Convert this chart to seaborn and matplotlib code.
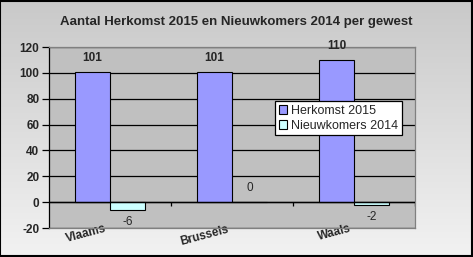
import numpy as np
import pandas as pd
import matplotlib
matplotlib.use("Agg")
import matplotlib.pyplot as plt
import matplotlib.transforms as mtransforms
from matplotlib.colors import LinearSegmentedColormap
import seaborn as sns

regions = ["Vlaams", "Brussels", "Waals"]
herkomst_2015 = [101, 101, 110]
nieuwkomers_2014 = [-6, 0, -2]
series_names = ["Herkomst 2015", "Nieuwkomers 2014"]
y_ticks = [-20, 0, 20, 40, 60, 80, 100, 120]
title = "Aantal Herkomst 2015 en Nieuwkomers 2014 per gewest"

df = pd.DataFrame({
    "gewest": regions * 2,
    "serie": [series_names[0]] * 3 + [series_names[1]] * 3,
    "waarde": herkomst_2015 + nieuwkomers_2014,
})

sns.set_style("white")
plt.rcParams["font.family"] = ["Liberation Sans", "DejaVu Sans"]

fig = plt.figure(figsize=(4.73, 2.57), dpi=100)
# gradient background
bg = fig.add_axes([0, 0, 1, 1], zorder=-10)
grad = np.linspace(0, 1, 256).reshape(-1, 1)
cmap = LinearSegmentedColormap.from_list("g", ["#c9c9c9", "#f2f2f2"])
bg.imshow(grad, aspect="auto", cmap=cmap, extent=[0, 1, 0, 1], origin="upper")
bg.set_xlim(0, 1); bg.set_ylim(0, 1)
bg.axis("off")
bg.add_patch(plt.Rectangle((0.001, 0.002), 0.997, 0.994, fill=False, edgecolor="black",
                           linewidth=1.5, transform=bg.transAxes))

ax = fig.add_axes([0.1036, 0.1128, 0.7738, 0.7043])
ax.set_facecolor("#c0c0c0")
sns.barplot(data=df, x="gewest", y="waarde", hue="serie", ax=ax,
            palette=["#9999ff", "#ccffff"], width=0.57, edgecolor="black",
            linewidth=0.8, saturation=1, errorbar=None)
ax.set_ylim(-20, 120)
ax.set_xlim(-0.5, 2.5)
ax.set_yticks(y_ticks)
ax.set_yticklabels([str(v) for v in y_ticks], fontsize=8.5, fontweight="bold")
ax.yaxis.grid(True, color="black", linewidth=0.9)
ax.set_axisbelow(True)
ax.set_xlabel(""); ax.set_ylabel("")
ax.tick_params(axis="y", direction="out", length=5, width=0.9, color="black", pad=2, left=True)
for s in ["top", "right", "bottom"]:
    ax.spines[s].set_color("#808080")
    ax.spines[s].set_linewidth(0.9)
ax.spines["left"].set_color("black")
ax.spines["left"].set_linewidth(0.9)

# x tick labels
ax.set_xticks(range(len(regions)))
ax.set_xticklabels(regions, fontsize=8.5, fontweight="bold", rotation=15,
                   rotation_mode="anchor", ha="right", va="top")
ax.tick_params(axis="x", length=0, pad=0)
for lbl in ax.get_xticklabels():
    lbl.set_transform(lbl.get_transform() + mtransforms.ScaledTranslation(-0.05, 0.05, fig.dpi_scale_trans))
# category boundary ticks at zero line
bounds = np.arange(len(regions) + 1) - 0.5
ax.vlines(bounds[1:], -3, 0, color="black", linewidth=0.9, zorder=3)
ax.axhline(0, color="black", linewidth=1.0, zorder=3)

# data labels
for cont, vals in zip(ax.containers, [herkomst_2015, nieuwkomers_2014]):
    for bar, v in zip(cont, vals):
        x = bar.get_x() + bar.get_width() / 2
        if v > 0:
            ax.text(x, v + 6, str(v), ha="center", va="bottom", fontsize=8.5, fontweight="bold")
        elif v == 0:
            ax.text(x, 11, str(v), ha="center", va="center", fontsize=8.5)
        else:
            ax.text(x, v - 9.5, str(v), ha="center", va="center", fontsize=8.5)

leg = ax.legend(loc="upper left", bbox_to_anchor=(0.617, 0.70), frameon=True,
                fontsize=9, handlelength=0.7, handleheight=0.7, handletextpad=0.3,
                borderpad=0.3, labelspacing=0.2, fancybox=False, borderaxespad=0)
leg.get_frame().set_edgecolor("black")
leg.get_frame().set_linewidth(0.9)
leg.get_frame().set_facecolor("white")
leg.get_frame().set_alpha(1)
leg.set_title(None)

fig.text(0.5, 0.915, title, ha="center", va="center", fontsize=9.5, fontweight="bold")

fig.savefig("out.png", dpi=100)
